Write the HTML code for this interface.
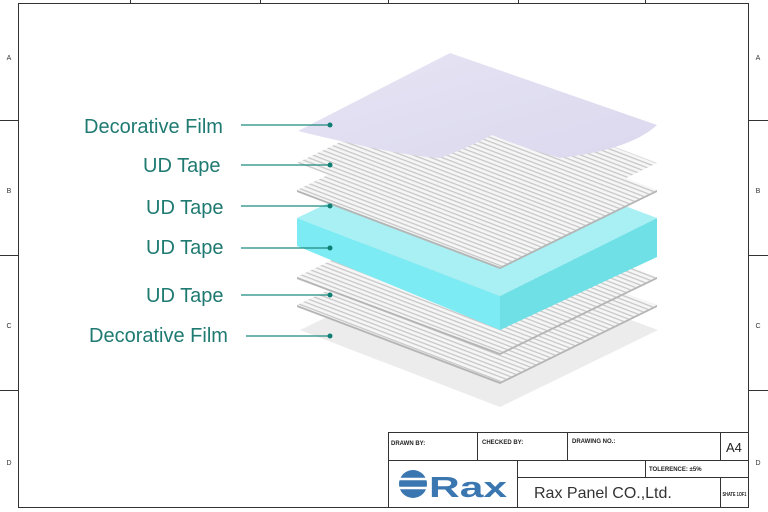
<!DOCTYPE html>
<html><head><style>
body{margin:0;background:#fff;}
svg{display:block;font-family:"Liberation Sans",sans-serif;}
</style></head><body>
<svg width="768" height="512" viewBox="0 0 768 512" xmlns="http://www.w3.org/2000/svg">
<defs>
<pattern id="st" width="4" height="4" patternUnits="userSpaceOnUse" patternTransform="rotate(21)">
<rect width="4" height="4" fill="#f6f6f6"/><rect width="4" height="1.3" fill="#c8c8c8"/>
</pattern>
<linearGradient id="film" x1="0" y1="0" x2="1" y2="1"><stop offset="0" stop-color="#e6e4f4"/><stop offset="1" stop-color="#dcd8ee"/></linearGradient>
</defs>
<rect width="768" height="512" fill="#fff"/>
<g stroke="#333" stroke-width="1" fill="none">
<rect x="18.5" y="3.5" width="730" height="504"/>
<line x1="0" y1="120.5" x2="18" y2="120.5"/><line x1="0" y1="255.5" x2="18" y2="255.5"/><line x1="0" y1="390.5" x2="18" y2="390.5"/>
<line x1="748" y1="120.5" x2="768" y2="120.5"/><line x1="748" y1="255.5" x2="768" y2="255.5"/><line x1="748" y1="390.5" x2="768" y2="390.5"/>
<line x1="130.5" y1="0" x2="130.5" y2="3"/><line x1="260.5" y1="0" x2="260.5" y2="3"/><line x1="388.5" y1="0" x2="388.5" y2="3"/><line x1="518.5" y1="0" x2="518.5" y2="3"/><line x1="645.5" y1="0" x2="645.5" y2="3"/>
</g>
<g font-size="7" fill="#333" text-anchor="middle">
<text x="9" y="60">A</text><text x="9" y="193">B</text><text x="9" y="328">C</text><text x="9" y="465">D</text>
<text x="758" y="60">A</text><text x="758" y="193">B</text><text x="758" y="328">C</text><text x="758" y="465">D</text>
</g>
<polygon points="300,330 455,255 658,330 500,407" fill="#ececec"/>
<polygon points="297,305 455,230 657,305 500,382" fill="url(#st)"/>
<polygon points="297,305 500,382 657,305 657,307 500,384 297,307" fill="#b5b5b5"/>
<polygon points="297,277 455,200 657,277 500,353" fill="url(#st)"/>
<polygon points="297,277 500,353 657,277 657,279 500,355 297,279" fill="#b5b5b5"/>
<polygon points="297,218 500,296 500,330 297,246" fill="#7debf3"/>
<polygon points="500,296 657,218 657,257 500,330" fill="#6ee0e6"/>
<polygon points="297,218 455,142 657,218 500,296" fill="#a8f0f4"/>
<polygon points="297,190 455,113 657,190 500,267" fill="url(#st)"/>
<polygon points="297,190 500,267 657,190 657,192 500,269 297,192" fill="#b5b5b5"/>
<polygon points="297,163 455,86 657,163 500,240" fill="url(#st)"/>
<path d="M298,131 L450,53 L657,125 Q630,150 560,158 Q520,147 492,135 Q470,147 440,158 Q400,156 298,131 Z" fill="url(#film)"/>
<g font-size="20" fill="#1f7a72">
<text x="84" y="133">Decorative Film</text>
<text x="143" y="172">UD Tape</text>
<text x="146" y="214">UD Tape</text>
<text x="146" y="254">UD Tape</text>
<text x="146" y="302">UD Tape</text>
<text x="89" y="342">Decorative Film</text>
</g>
<g stroke="#1f8a80" stroke-width="1.2">
<line x1="241" y1="125" x2="330" y2="125"/><line x1="241" y1="165" x2="330" y2="165"/><line x1="241" y1="206" x2="330" y2="206"/>
<line x1="241" y1="248" x2="330" y2="248"/><line x1="241" y1="295" x2="330" y2="295"/><line x1="246" y1="336" x2="330" y2="336"/>
</g>
<g fill="#0f7f74">
<circle cx="330" cy="125" r="2.5"/><circle cx="330" cy="165" r="2.5"/><circle cx="330" cy="206" r="2.5"/>
<circle cx="330" cy="248" r="2.5"/><circle cx="330" cy="295" r="2.5"/><circle cx="330" cy="336" r="2.5"/>
</g>
<g stroke="#333" fill="none">
<rect x="388.5" y="432.5" width="360" height="75" fill="#fff"/>
<line x1="388" y1="460.5" x2="748" y2="460.5"/>
<line x1="477.5" y1="432" x2="477.5" y2="460"/>
<line x1="567.5" y1="432" x2="567.5" y2="460"/>
<line x1="720.5" y1="432" x2="720.5" y2="460"/>
<line x1="517.5" y1="460" x2="517.5" y2="508"/>
<line x1="517" y1="477.5" x2="748" y2="477.5"/>
<line x1="645.5" y1="460" x2="645.5" y2="477"/>
<line x1="720.5" y1="477" x2="720.5" y2="508"/>
</g>
<g font-size="6" font-weight="bold" fill="#222">
<text x="391" y="445">DRAWN BY:</text>
<text x="482" y="444">CHECKED BY:</text>
<text x="572" y="443">DRAWING NO.:</text>
<text x="649" y="471">TOLERENCE:  ±5%</text>
<text x="722.5" y="496" font-size="5" textLength="24" lengthAdjust="spacingAndGlyphs">SHATE 1OF1</text>
</g>
<text x="726" y="452" font-size="13" fill="#222">A4</text>
<text x="534" y="498" font-size="16" fill="#333">Rax Panel CO.,Ltd.</text>
<circle cx="413" cy="484" r="14" fill="#3a76b0"/>
<g stroke="#fff" stroke-width="2.5"><line x1="398" y1="479" x2="428" y2="479"/><line x1="398" y1="488" x2="428" y2="488"/></g>
<text x="429" y="497" font-size="29" font-weight="bold" fill="#3a76b0" textLength="78" lengthAdjust="spacingAndGlyphs">Rax</text>
</svg>
</body></html>
